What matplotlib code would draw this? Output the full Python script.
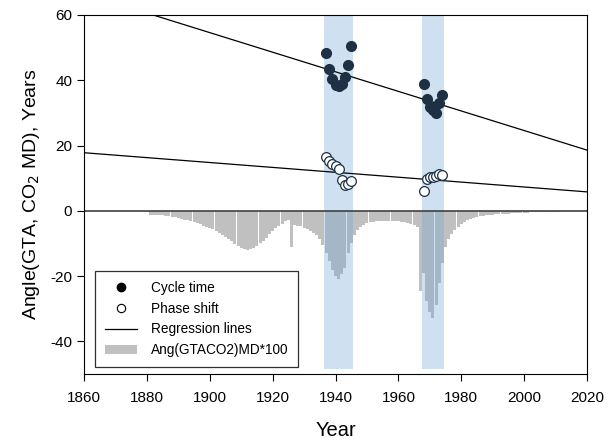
import numpy as np
import matplotlib
matplotlib.use("Agg")
import matplotlib.pyplot as plt
from matplotlib.lines import Line2D
from matplotlib.patches import Patch

plt.rcParams['font.family'] = ['Liberation Sans', 'DejaVu Sans']
plt.rcParams['axes.unicode_minus'] = False

# cycle time and phase shift points (years)
cycle_years_1 = [1937, 1938, 1939, 1940, 1941, 1942, 1943, 1944, 1945]
cycle_vals_1 = [48.4, 43.4, 40.3, 38.7, 38.2, 39.0, 41.1, 44.6, 50.5]
cycle_years_2 = [1968, 1969, 1970, 1971, 1972, 1973, 1974]
cycle_vals_2 = [38.8, 34.2, 31.9, 30.9, 29.9, 32.9, 35.6]

phase_years_1 = [1937, 1938, 1939, 1940, 1941, 1942, 1943, 1944, 1945]
phase_vals_1 = [16.6, 15.3, 14.3, 13.6, 12.9, 9.3, 8.0, 8.3, 9.1]
phase_years_2 = [1968, 1969, 1970, 1971, 1972, 1973, 1974]
phase_vals_2 = [6.2, 9.7, 10.5, 10.3, 10.7, 11.3, 10.9]

# regression lines, end points
reg_x = [1860, 2020]
reg_cycle = [66.6, 18.6]
reg_phase = [17.8, 5.8]

# highlighted periods
bands = [(1936.5, 1945.5), (1967.5, 1974.5)]

# Ang(GTACO2)MD*100, yearly from 1881
ang_start = 1881
ang_vals = [
    -1.2, -1.2, -1.3, -1.3, -1.4, -1.5, -1.7, -1.9, -2.0, -2.2,   # 1881-1890
    -2.4, -2.7, -2.9, -3.2, -3.5, -3.8, -4.1, -4.5, -4.9, -5.3,   # 1891-1900
    -5.7, -6.2, -6.8, -7.4, -8.0, -8.7, -9.4, -10.1, -10.8, -11.3,  # 1901-1910
    -11.8, -11.9, -11.8, -11.4, -10.8, -10.0, -9.1, -8.2, -7.2, -6.3,  # 1911-1920
    -5.4, -4.6, -3.9, -3.2, -2.9, -11.0, -4.3, -4.5, -4.8, -5.2,  # 1921-1930
    -5.6, -6.1, -6.7, -7.5, -8.6, -10.5, -13.0, -15.5, -18.0, -20.0,  # 1931-1940
    -21.0, -19.5, -17.5, -13.0, -10.0, -7.5, -6.0, -5.0, -4.2, -3.8,  # 1941-1950
    -3.5, -3.3, -3.2, -3.1, -3.0, -3.0, -3.0, -3.1, -3.1, -3.2,   # 1951-1960
    -3.3, -3.5, -3.7, -4.0, -4.4, -5.0, -24.5, -19.0, -27.5, -31.0,  # 1961-1970
    -32.8, -29.0, -22.0, -16.0, -11.0, -8.5, -7.0, -6.0, -5.0, -4.0,  # 1971-1980
    -3.3, -2.8, -2.4, -2.1, -1.9, -1.7, -1.5, -1.4, -1.3, -1.2,   # 1981-1990
    -1.1, -1.0, -0.95, -0.9, -0.85, -0.8, -0.75, -0.7, -0.65, -0.6,  # 1991-2000
    -0.55, -0.5, -0.47, -0.44, -0.4, -0.37, -0.34, -0.3, -0.28, -0.25,  # 2001-2010
    -0.22, -0.2, -0.18, -0.15,   # 2011-2014
]
ang_years = np.arange(ang_start, ang_start + len(ang_vals))

navy = '#1d3044'

fig = plt.figure(figsize=(6.16, 4.46), dpi=100)
ax = fig.add_axes([84 / 616, 1 - 374 / 446, 503 / 616, 359 / 446])

ax.bar(ang_years, ang_vals, width=0.95, color='#c0c0c0', zorder=1)

for x0, x1 in bands:
    ax.fill_between([x0, x1], -48.5, 60, color='#6fa2d4', alpha=0.33,
                    linewidth=0, zorder=2)

ax.axhline(0, color='#404040', lw=1.2, zorder=2.5)

ax.plot(reg_x, reg_cycle, color='black', lw=0.9, zorder=3)
ax.plot(reg_x, reg_phase, color='black', lw=0.9, zorder=3)

for yrs, vals in [(cycle_years_1, cycle_vals_1), (cycle_years_2, cycle_vals_2)]:
    ax.plot(yrs, vals, 'o', ms=7, color=navy, mec=navy, zorder=4)
for yrs, vals in [(phase_years_1, phase_vals_1), (phase_years_2, phase_vals_2)]:
    ax.plot(yrs, vals, 'o', ms=7, mfc='white', mec=navy, mew=0.9, zorder=4)

ax.set_xlim(1860, 2020)
ax.set_ylim(-50, 60)
ax.set_xticks(np.arange(1860, 2021, 20))
ax.set_yticks(np.arange(-40, 61, 20))
ax.tick_params(direction='out', length=5, labelsize=11)
ax.tick_params(axis='x', pad=7)
ax.set_xlabel('Year', fontsize=14.5, labelpad=12)
ax.set_ylabel('Angle(GTA, CO$_2$ MD), Years', fontsize=14, labelpad=6)

handles = [
    Line2D([], [], marker='o', ls='none', color='black', ms=6),
    Line2D([], [], marker='o', ls='none', mfc='white', mec='black', ms=6, mew=0.8),
    Line2D([], [], color='black', lw=0.9),
    Patch(facecolor='#c0c0c0', edgecolor='none'),
]
labels = ['Cycle time', 'Phase shift', 'Regression lines', 'Ang(GTACO2)MD*100']
leg = ax.legend(handles, labels, loc='lower left', bbox_to_anchor=(0.022, 0.02),
                borderaxespad=0, fontsize=9.8, fancybox=False, framealpha=1,
                edgecolor='#303030', handlelength=2.4, labelspacing=0.5,
                borderpad=0.7, handletextpad=1.0)
leg.get_frame().set_linewidth(0.9)
leg.set_zorder(5)

fig.savefig('out.png', dpi=100)
